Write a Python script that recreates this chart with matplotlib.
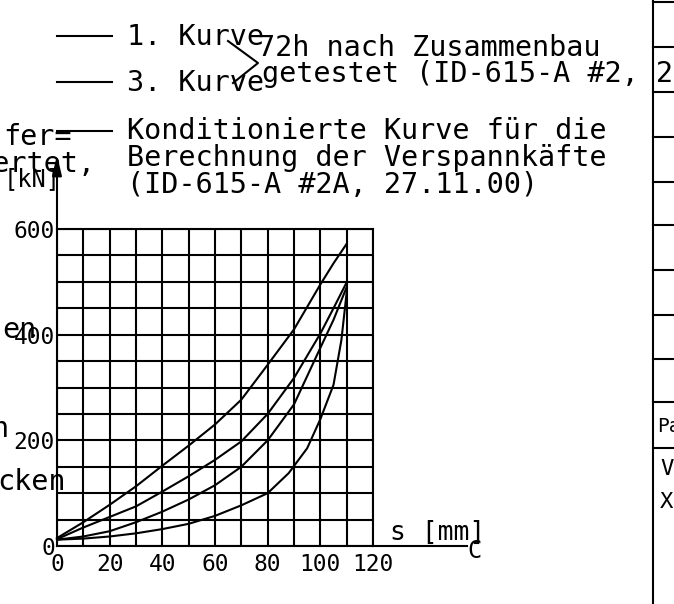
import numpy as np
import matplotlib
matplotlib.use("Agg")
import matplotlib.pyplot as plt
from matplotlib.lines import Line2D

# ---------------- data ----------------
x_ticks = [0, 10, 20, 30, 40, 50, 60, 70, 80, 90, 100, 110, 120]
x_labels = ["0", "", "20", "", "40", "", "60", "", "80", "", "100", "", "120"]
y_ticks = [0, 50, 100, 150, 200, 250, 300, 350, 400, 450, 500, 550, 600]
y_labels = ["0", "", "", "", "200", "", "", "", "400", "", "", "", "600"]

curve_a_x = [0, 10, 20, 30, 40, 50, 60, 70, 80, 90, 100, 105, 110]
curve_a_y = [15, 45, 78, 113, 152, 190, 230, 277, 343, 410, 495, 535, 572]

curve_b_x = [0, 10, 20, 30, 40, 50, 60, 70, 80, 90, 100, 105, 110]
curve_b_y = [13, 35, 55, 75, 103, 132, 163, 198, 250, 318, 402, 450, 499]

curve_c_x = [0, 10, 20, 30, 40, 50, 60, 70, 80, 90, 100, 105, 110]
curve_c_y = [12, 18, 28, 45, 65, 88, 115, 150, 200, 268, 375, 428, 490]

curve_d_x = [0, 10, 20, 30, 40, 50, 60, 70, 80, 88, 95, 100, 105, 108, 110]
curve_d_y = [12, 14, 18, 24, 32, 42, 57, 77, 100, 138, 185, 240, 305, 390, 480]

W, H = 674, 604
MONO = "DejaVu Sans Mono"
LW = 1.5

fig = plt.figure(figsize=(W / 100, H / 100), dpi=100)
fig.patch.set_facecolor("white")

ax = fig.add_axes([57 / W, (H - 546) / H, 316 / W, 317 / H])
ax.set_xlim(0, 120)
ax.set_ylim(0, 600)
ax.set_xticks(x_ticks)
ax.set_xticklabels(x_labels, fontfamily=MONO, fontsize=16.5)
ax.set_yticks(y_ticks)
ax.set_yticklabels(y_labels, fontfamily=MONO, fontsize=16.5)
ax.tick_params(axis="x", length=0, pad=5)
ax.tick_params(axis="y", length=0, pad=1.5)
ax.grid(True, color="black", linewidth=LW)
for sp in ax.spines.values():
    sp.set_color("black")
    sp.set_linewidth(LW)
ax.set_axisbelow(True)

for cx, cy in [(curve_a_x, curve_a_y), (curve_b_x, curve_b_y),
               (curve_c_x, curve_c_y), (curve_d_x, curve_d_y)]:
    ax.plot(cx, cy, color="black", linewidth=LW, clip_on=False,
            solid_joinstyle="round")

# axis extensions
ax.annotate("", xy=(0, 740), xytext=(0, 600),
            arrowprops=dict(arrowstyle="-|>,head_length=0.55,head_width=0.13",
                            color="black", lw=LW, mutation_scale=22,
                            shrinkA=0, shrinkB=0),
            annotation_clip=False)
ax.plot([120, 155.7], [0, 0], color="black", linewidth=LW, clip_on=False)


def ftext(x, y, s, size=20.5, ha="left", **kw):
    fig.text(x / W, 1 - y / H, s, fontsize=size, family=MONO, ha=ha,
             va="baseline", color="black", **kw)


def fline(xs, ys):
    fig.add_artist(Line2D([v / W for v in xs], [1 - v / H for v in ys],
                          color="black", linewidth=LW))


# legend-like texts
fline([57, 112], [36, 36])
fline([57, 112], [82, 82])
fline([57, 112], [131, 131])
fline([228, 258, 233], [41, 63, 83])
ftext(127, 45, "1. Kurve")
ftext(127, 91, "3. Kurve")
ftext(258, 56, "72h nach Zusammenbau")
ftext(262, 82, "getestet (ID-615-A #2, 20.11.00)")
ftext(127, 139, "Konditionierte Kurve für die")
ftext(127, 166, "Berechnung der Verspannkäfte")
ftext(127, 193, "(ID-615-A #2A, 27.11.00)")

# fragments at left edge
ftext(72, 145, "fer=", ha="right")
ftext(95, 172, "efertet,", ha="right")
ftext(4, 186, "[kN]", size=17)
ftext(37, 338, "en", ha="right")
ftext(8, 437, "n", ha="right")
ftext(66, 490, "cken", ha="right")

# x axis label
ftext(390, 540, "s [mm]", size=19)
ftext(467, 558, "C", size=17)

# table at right edge
fline([653, 653], [0, 604])
for yy in [2, 47, 92, 137, 182, 225, 270, 315, 359, 402, 448]:
    fline([653, 674], [yy, yy])
ftext(657, 432, "Pa", size=14)
ftext(660, 475, "V", size=16)
ftext(660, 508, "X", size=16)

fig.savefig("out.png", dpi=100, facecolor="white")
